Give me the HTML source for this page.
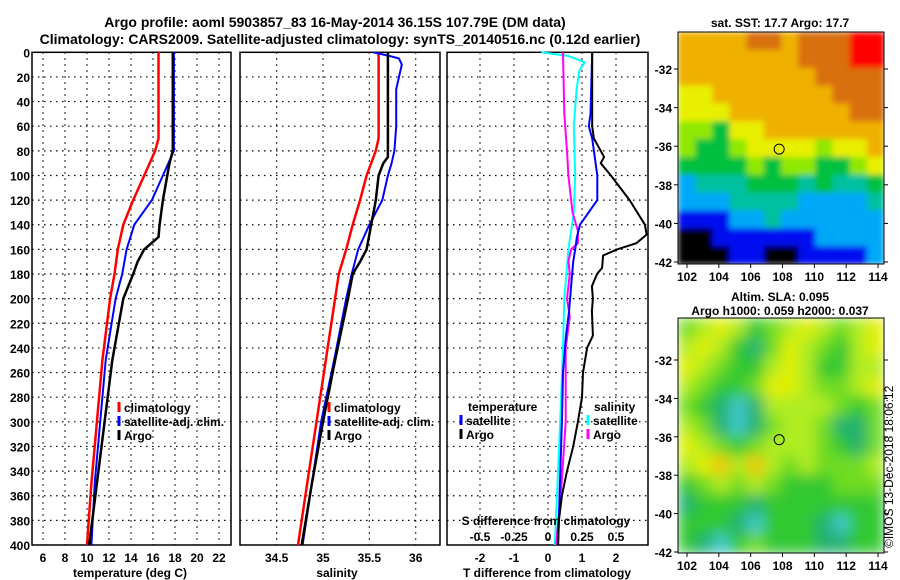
<!DOCTYPE html>
<html><head><meta charset="utf-8"><style>
html,body{margin:0;padding:0;background:#fff;}
svg{display:block;font-family:"Liberation Sans",sans-serif;font-weight:bold;}
</style></head><body>
<svg id="c" width="900" height="580" viewBox="0 0 900 580" xmlns="http://www.w3.org/2000/svg">
<defs>
<filter id="blur" x="0" y="0" width="1" height="1"><feGaussianBlur stdDeviation="7" edgeMode="duplicate"/></filter>
<filter id="blur2" x="0" y="0" width="1" height="1"><feGaussianBlur stdDeviation="3" edgeMode="duplicate"/></filter>
<clipPath id="clipSla"><rect x="678" y="318" width="206" height="235"/></clipPath>
<clipPath id="clipSst"><rect x="678" y="32" width="206" height="232"/></clipPath>
</defs>
<text x="335" y="27" text-anchor="middle" font-size="14">Argo profile: aoml 5903857_83 16-May-2014 36.15S 107.79E (DM data)</text>
<text x="340" y="44" text-anchor="middle" font-size="14">Climatology: CARS2009. Satellite-adjusted climatology: synTS_20140516.nc (0.12d earlier)</text>
<text x="780" y="27" text-anchor="middle" font-size="12">sat. SST: 17.7 Argo: 17.7</text>
<text x="780" y="301" text-anchor="middle" font-size="12">Altim. SLA: 0.095</text>
<text x="780" y="315" text-anchor="middle" font-size="12">Argo h1000: 0.059 h2000: 0.037</text>
<text transform="translate(893,548) rotate(-90)" font-size="12" font-weight="normal">©IMOS 13-Dec-2018 18:06:12</text>
<g id="plots"></g>
</svg>
<script>
// ---- data ----
const depthTicks=[0,20,40,60,80,100,120,140,160,180,200,220,240,260,280,300,320,340,360,380,400];
const tTicks=[6,8,10,12,14,16,18,20,22];
const sTicks=[34.5,35,35.5,36];
const dTTicks=[-2,-1,0,1,2];
const dSTicks=["-0.5","-0.25","0","0.25","0.5"];
const dSTickVals=[-0.5,-0.25,0,0.25,0.5];
// temperature profiles
const tClimDepth=[0,70,80,90,100,120,140,160,180,200,250,300,350,400];
const tClim=[16.5,16.5,16.2,15.7,15.2,14.2,13.3,12.8,12.5,12.1,11.4,10.9,10.4,10.0];
const tSatDepth=[0,80,100,120,140,160,180,200,250,300,350,400];
const tSat=[17.9,17.9,16.9,15.9,14.3,13.6,13.2,12.6,11.7,11.2,10.7,10.4];
const tArgoDepth=[0,80,90,100,120,140,150,160,170,180,200,250,300,350,400];
const tArgo=[17.8,17.8,17.5,17.3,16.9,16.6,16.5,15.2,14.6,14.2,13.3,12.3,11.6,10.9,10.2];
// salinity profiles
const sClimDepth=[0,70,80,100,120,140,160,180,200,250,300,350,400];
const sClim=[35.6,35.6,35.57,35.47,35.4,35.32,35.25,35.17,35.13,35.03,34.93,34.83,34.73];
const sSatDepth=[0,3,5,10,20,30,60,80,90,100,120,140,160,180,200,250,300,350,400];
const sSat=[35.54,35.72,35.82,35.85,35.82,35.79,35.79,35.77,35.74,35.7,35.64,35.5,35.38,35.31,35.25,35.12,34.98,34.88,34.78];
const sArgoDepth=[0,85,90,100,120,140,160,170,180,200,250,300,350,400];
const sArgo=[35.7,35.7,35.65,35.6,35.57,35.52,35.47,35.4,35.32,35.27,35.13,35.0,34.88,34.77];
// difference profiles
const dTSatDepth=[0,50,60,70,80,100,120,140,150,160,170,190,210,230,260,300,350,400];
const dTSat=[1.3,1.25,1.2,1.3,1.35,1.45,1.45,0.94,0.85,0.8,0.74,0.68,0.62,0.53,0.44,0.41,0.35,0.3];
const dTArgoDepth=[0,60,70,80,85,90,100,120,140,148,155,160,165,175,180,190,200,210,230,240,260,280,300,320,340,360,380,400];
const dTArgo=[1.3,1.3,1.35,1.55,1.65,1.55,1.85,2.4,2.85,2.9,2.6,2.03,1.62,1.59,1.44,1.29,1.32,1.29,1.32,1.15,1.03,1.0,0.88,0.74,0.56,0.41,0.32,0.29];
const dSSatDepth=[0,3,8,15,30,60,100,130,160,200,240,300,350,400];
const dSSat=[-0.05,0.15,0.27,0.23,0.21,0.19,0.2,0.19,0.15,0.12,0.11,0.09,0.07,0.05];
const dSArgoDepth=[0,50,80,100,130,145,155,160,170,180,200,215,240,300,350,400];
const dSArgo=[0.11,0.12,0.14,0.15,0.18,0.22,0.22,0.17,0.15,0.16,0.14,0.16,0.13,0.13,0.1,0.06];
// map grids
const sstGrid=[
[7,7,7,7,8,8,7,8,8,8,9,9],[7,7,7,7,7,7,7,8,8,8,9,9],[7,7,7,7,7,7,7,7,8,8,8,8],
[6,6,7,7,7,7,7,7,7,8,8,8],[6,6,6,7,7,7,7,7,7,7,8,8],[5,5,4,6,6,7,7,7,7,7,7,7],
[5,4,4,5,6,6,6,6,5,6,6,7],[4,4,4,4,5,4,5,5,4,4,5,6],[2,3,3,3,4,4,4,3,4,3,3,4],
[2,2,2,3,3,3,3,2,2,2,2,3],[1,1,1,2,2,3,2,2,2,2,2,2],[0,0,1,1,1,1,1,1,2,2,2,2],[0,0,0,1,1,0,0,1,1,1,1,2]];
const slaGrid=[
[3,4,5,4,2,3,4,5,4,3,4,5],[4,5,4,2,1,3,5,4,3,2,4,5],[5,4,3,2,2,4,5,4,2,2,4,4],
[4,3,2,2,3,5,5,4,3,3,4,5],[3,2,1,0,1,4,4,4,4,3,2,3],[4,3,1,0,1,3,4,4,3,1,1,3],
[5,4,3,2,3,4,4,4,3,2,1,3],[4,5,6,4,6,4,3,4,3,3,3,4],[2,3,4,3,4,3,2,2,2,3,3,3],
[1,2,2,2,1,2,2,2,2,2,2,2],[2,2,2,1,0,2,2,2,1,0,2,2],[2,1,0,2,3,2,2,2,1,1,2,2]];
const latTicks=[-32,-34,-36,-38,-40,-42];
const lonTicks=[102,104,106,108,110,112,114];
const argoLon=107.79, argoLat=-36.15;

// ---- helpers ----
const NS='http://www.w3.org/2000/svg';
const root=document.getElementById('plots');
function mk(tag,attrs,parent){const e=document.createElementNS(NS,tag);for(const k in attrs)e.setAttribute(k,attrs[k]);(parent||root).appendChild(e);return e;}
const Y0=52.3,Y1=545;
const yD=d=>Y0+d*(Y1-Y0)/400;
const xT=t=>43+(t-6)*11;
const xS=s=>323+(s-35)*92.7;
const xDT=v=>548+v*34;
const xDS=v=>548+v*136;

function panel(name,x0,x1,ticks,xf){
  const g=mk('g',{});
  
  
  depthTicks.forEach((d,i)=>{if(i>0&&i<depthTicks.length-1){const l=mk('line',{x1:x0,x2:x1,y1:yD(d),y2:yD(d),stroke:'#000','stroke-dasharray':'1.5,4.5','stroke-width':1.2},g);}});
  ticks.forEach(t=>{const l=mk('line',{x1:xf(t),x2:xf(t),y1:Y0,y2:Y1,stroke:'#000','stroke-dasharray':'1.5,4.5','stroke-width':1.2},g);});
  const r=mk('rect',{x:x0,y:Y0,width:x1-x0,height:Y1-Y0,fill:'none',stroke:'#000','stroke-width':1.5},g);
  
  return g;
}
function series(g,name,depths,vals,xf,color,w){
  const pts=depths.map((d,i)=>xf(vals[i]).toFixed(1)+','+yD(d).toFixed(1)).join(' ');
  const p=mk('polyline',{points:pts,fill:'none',stroke:color,'stroke-width':w,'stroke-linejoin':'round'},g);
  
  
}
function text(g,name,x,y,s,size,anchor,fill){
  const t=mk('text',{x:x,y:y,'font-size':size||12,'text-anchor':anchor||'start',fill:fill||'#000'},g);
  t.textContent=s;
  
  
  return t;
}
function legendEntry(g,x,y,color,label){
  const l=mk('line',{x1:x,x2:x,y1:y-10,y2:y,stroke:color,'stroke-width':3},g);
  
  
  text(g,'legend-label',x+5,y,label,12);
}

depthTicks.forEach(d=>{text(root,'depth-tick-label',30,yD(d)+5,String(d),12,'end');});

const p1=panel('temperature-panel',32,231,tTicks,xT);
series(p1,'temperature-climatology-line',tClimDepth,tClim,xT,'#f00',2.5);
series(p1,'temperature-satellite-line',tSatDepth,tSat,xT,'#00f',2);
series(p1,'temperature-argo-line',tArgoDepth,tArgo,xT,'#000',2.5);
tTicks.forEach(t=>text(p1,'temperature-tick-label',xT(t),562,String(t),12,'middle'));
text(p1,'temperature-axis-title',130,577,'temperature (deg C)',12,'middle');
legendEntry(p1,119,412,'#f00','climatology');
legendEntry(p1,119,426,'#00f','satellite-adj. clim.');
legendEntry(p1,119,440,'#000','Argo');

const p2=panel('salinity-panel',240,440,sTicks,xS);
series(p2,'salinity-climatology-line',sClimDepth,sClim,xS,'#f00',2.5);
series(p2,'salinity-satellite-line',sSatDepth,sSat,xS,'#00f',2);
series(p2,'salinity-argo-line',sArgoDepth,sArgo,xS,'#000',2.5);
sTicks.forEach(t=>text(p2,'salinity-tick-label',xS(t),562,String(t),12,'middle'));
text(p2,'salinity-axis-title',337,577,'salinity',12,'middle');
legendEntry(p2,329,412,'#f00','climatology');
legendEntry(p2,329,426,'#00f','satellite-adj. clim.');
legendEntry(p2,329,440,'#000','Argo');

const p3=panel('difference-panel',447,648,dTTicks,xDT);
series(p3,'s-diff-satellite-line',dSSatDepth,dSSat,xDS,'#0ff',2);
series(p3,'s-diff-argo-line',dSArgoDepth,dSArgo,xDS,'#f0f',2);
series(p3,'t-diff-satellite-line',dTSatDepth,dTSat,xDT,'#00f',2);
series(p3,'t-diff-argo-line',dTArgoDepth,dTArgo,xDT,'#000',2);
dTTicks.forEach(t=>text(p3,'t-diff-tick-label',xDT(t),562,String(t),12,'middle'));
text(p3,'t-diff-axis-title',547,577,'T difference from climatology',12,'middle');
text(p3,'s-diff-axis-title',546,525,'S difference from climatology',12,'middle');
dSTickVals.forEach((v,i)=>text(p3,'s-diff-tick-label',xDS(v),541,dSTicks[i],12,'middle'));
text(p3,'legend-temperature-heading',468,411,'temperature',12);
legendEntry(p3,461,425,'#00f','satellite');
legendEntry(p3,461,439,'#000','Argo');
text(p3,'legend-salinity-heading',594,411,'salinity',12);
legendEntry(p3,588,425,'#0ff','satellite');
legendEntry(p3,588,439,'#f0f','Argo');

const sstColors=['#000','#0010f0','#00a8f8','#00c0a0','#00c040','#90e800','#e8f000','#f0b000','#d87010','#ff0000'];
const slaColors=['#40c8c8','#20b070','#30c830','#70dc20','#b0ec20','#e0f000','#f0c800'];
function mapPanel(name,grid,colors,x0,y0,x1,y1,latY,lonX,filt,clip){
  const g=mk('g',{});
  
  
  const cg=mk('g',{'clip-path':'url(#'+clip+')'},g);
  const cells=mk('g',{filter:'url(#'+filt+')'},cg);
  const rows=grid.length,cols=grid[0].length;
  const cw=(x1-x0)/cols,ch=(y1-y0)/rows;
  grid.forEach((row,j)=>row.forEach((v,i)=>{
    const r=mk('rect',{x:(x0+i*cw).toFixed(2),y:(y0+j*ch).toFixed(2),width:(cw+0.6).toFixed(2),height:(ch+0.6).toFixed(2),fill:colors[v]},cells);
    
    
  }));
  const f=mk('rect',{x:x0,y:y0,width:x1-x0,height:y1-y0,fill:'none',stroke:'#000','stroke-width':1},g);
  
  latTicks.forEach(l=>{const y=latY(l);
    mk('line',{x1:x0-4,x2:x0,y1:y,y2:y,stroke:'#000'},g);mk('line',{x1:x1,x2:x1+4,y1:y,y2:y,stroke:'#000'},g);
    text(g,'lat-tick-label',x0-6,y+5,String(l),12,'end');});
  lonTicks.forEach(l=>{const x=lonX(l);
    mk('line',{x1:x,x2:x,y1:y1,y2:y1+4,stroke:'#000'},g);
    text(g,'lon-tick-label',x,y1+17,String(l),12,'middle');});
  const c=mk('circle',{cx:lonX(argoLon),cy:latY(argoLat),r:5,fill:'none',stroke:'#000','stroke-width':1},g);
  
}
const lonX=l=>687+(l-102)*15.92;
mapPanel('sst-map',sstGrid,sstColors,678,32,884,264,l=>69+(-32-l)*19.3,lonX,'blur2','clipSst');
mapPanel('sla-map',slaGrid,slaColors,678,318,884,553,l=>360+(-32-l)*19.2,lonX,'blur','clipSla');
</script>
</body></html>
